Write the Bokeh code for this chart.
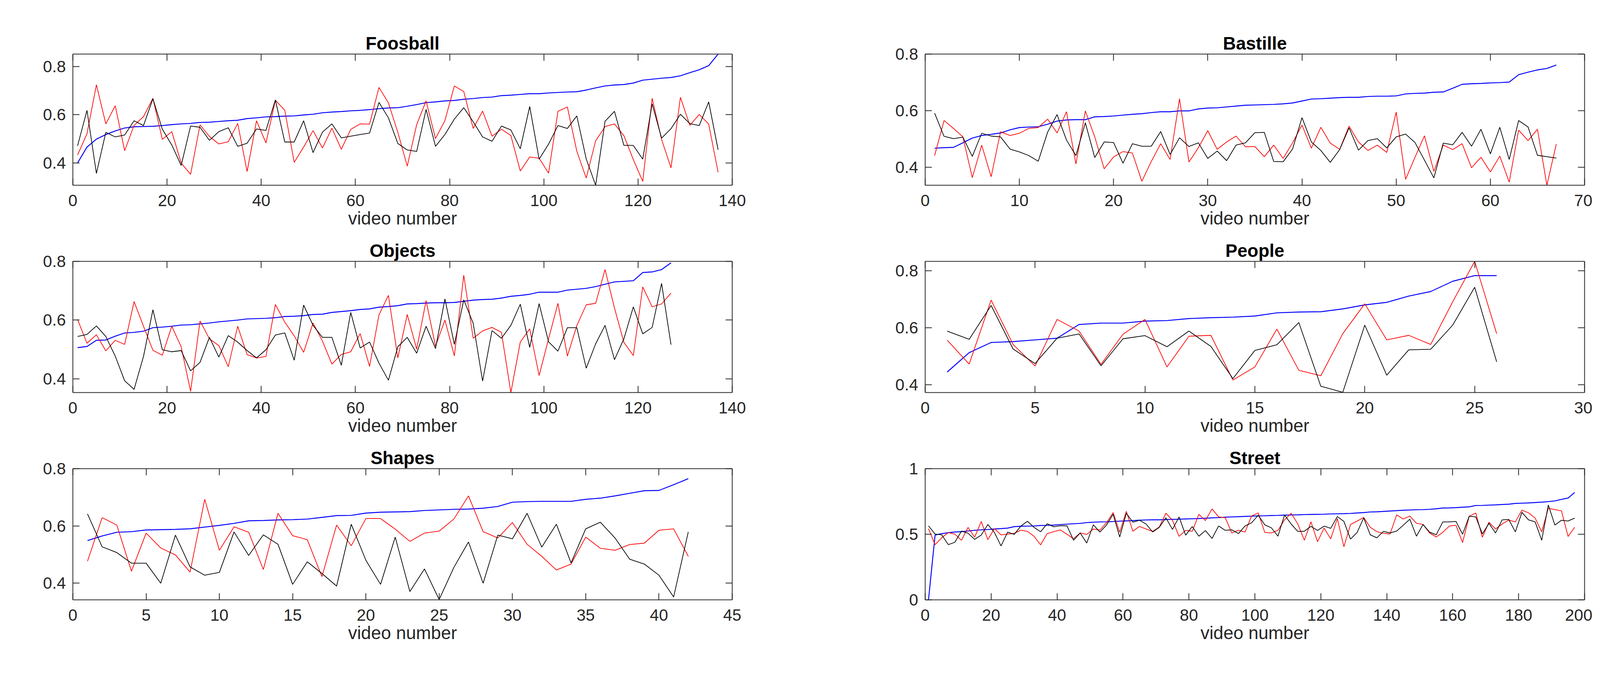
from bokeh.plotting import figure
from bokeh.models import Range1d, FixedTicker, LinearAxis, NumeralTickFormatter, CustomJSTickFormatter
from bokeh.layouts import column, row
from bokeh.embed import file_html
from bokeh.resources import INLINE

# ---------------- data ----------------
foos_x = list(range(1, 138, 2))
foos_blue = [0.400,0.466,0.499,0.518,0.533,0.545,0.550,0.551,0.552,0.555,
             0.559,0.562,0.564,0.568,0.569,0.572,0.575,0.577,0.584,0.587,
             0.591,0.592,0.594,0.595,0.599,0.602,0.608,0.611,0.613,0.616,
             0.618,0.621,0.625,0.628,0.629,0.635,0.642,0.650,0.653,0.657,
             0.659,0.664,0.667,0.671,0.673,0.679,0.681,0.684,0.687,0.687,
             0.690,0.692,0.694,0.695,0.702,0.711,0.719,0.723,0.725,0.731,
             0.743,0.747,0.751,0.754,0.761,0.774,0.786,0.803,0.851]
foos_red = [0.433,0.521,0.724,0.562,0.637,0.451,0.556,0.592,0.668,0.498,
            0.530,0.400,0.353,0.558,0.510,0.479,0.488,0.564,0.365,0.575,
            0.483,0.660,0.618,0.403,0.466,0.534,0.462,0.544,0.457,0.539,
            0.562,0.561,0.713,0.649,0.527,0.387,0.559,0.657,0.501,0.576,
            0.719,0.696,0.543,0.615,0.511,0.540,0.514,0.367,0.425,0.420,
            0.358,0.614,0.632,0.449,0.338,0.492,0.551,0.562,0.513,0.414,
            0.324,0.668,0.498,0.380,0.672,0.556,0.601,0.561,0.362]
foos_black = [0.471,0.618,0.357,0.527,0.508,0.516,0.575,0.555,0.666,0.540,
              0.475,0.390,0.553,0.548,0.494,0.530,0.546,0.469,0.482,0.541,
              0.535,0.661,0.487,0.487,0.575,0.443,0.528,0.562,0.504,0.511,
              0.518,0.524,0.651,0.587,0.481,0.454,0.448,0.622,0.469,0.518,
              0.582,0.629,0.571,0.508,0.490,0.553,0.537,0.459,0.634,0.416,
              0.478,0.555,0.543,0.595,0.417,0.308,0.573,0.614,0.473,0.473,
              0.416,0.645,0.503,0.542,0.602,0.563,0.555,0.653,0.455]

bast_x = list(range(1, 68))
bast_blue = [0.467,0.469,0.470,0.486,0.503,0.512,0.516,0.521,0.532,0.540,
             0.542,0.543,0.552,0.563,0.567,0.568,0.568,0.578,0.579,0.581,
             0.584,0.587,0.589,0.593,0.596,0.596,0.599,0.599,0.606,0.609,
             0.610,0.613,0.616,0.619,0.620,0.621,0.622,0.624,0.627,0.634,
             0.641,0.642,0.644,0.646,0.647,0.647,0.650,0.651,0.651,0.652,
             0.659,0.661,0.662,0.665,0.666,0.679,0.693,0.695,0.696,0.698,
             0.699,0.701,0.727,0.736,0.744,0.749,0.761]
bast_red = [0.441,0.565,0.537,0.507,0.363,0.478,0.366,0.525,0.512,0.520,
            0.537,0.540,0.570,0.521,0.596,0.411,0.599,0.507,0.394,0.436,
            0.455,0.450,0.350,0.420,0.483,0.427,0.642,0.418,0.469,0.529,
            0.463,0.489,0.510,0.472,0.473,0.437,0.478,0.431,0.486,0.549,
            0.467,0.541,0.485,0.463,0.545,0.489,0.459,0.478,0.452,0.595,
            0.357,0.435,0.511,0.385,0.478,0.462,0.483,0.398,0.435,0.383,
            0.439,0.347,0.531,0.494,0.534,0.336,0.482]
bast_black = [0.591,0.509,0.501,0.506,0.438,0.520,0.510,0.507,0.464,0.454,
              0.441,0.421,0.524,0.586,0.496,0.441,0.557,0.434,0.489,0.487,
              0.414,0.483,0.474,0.474,0.526,0.445,0.504,0.473,0.486,0.431,
              0.457,0.423,0.478,0.486,0.522,0.523,0.420,0.419,0.464,0.575,
              0.489,0.459,0.417,0.462,0.539,0.460,0.494,0.501,0.468,0.507,
              0.517,0.487,0.425,0.362,0.485,0.479,0.523,0.474,0.534,0.447,
              0.541,0.427,0.565,0.542,0.442,0.437,0.432]

obj_x = list(range(1, 128, 2))
obj_blue = [0.506,0.510,0.531,0.532,0.545,0.556,0.558,0.562,0.574,0.576,
            0.579,0.583,0.584,0.587,0.590,0.594,0.597,0.600,0.604,0.605,
            0.606,0.608,0.612,0.613,0.615,0.619,0.620,0.626,0.629,0.632,
            0.636,0.638,0.644,0.646,0.649,0.655,0.656,0.658,0.659,0.659,
            0.660,0.664,0.668,0.670,0.671,0.675,0.681,0.684,0.688,0.695,
            0.695,0.695,0.702,0.705,0.708,0.714,0.722,0.730,0.732,0.734,
            0.762,0.764,0.772,0.795]
obj_red = [0.602,0.521,0.550,0.495,0.531,0.517,0.663,0.579,0.497,0.480,
           0.579,0.509,0.357,0.597,0.536,0.513,0.441,0.579,0.482,0.471,
           0.476,0.653,0.593,0.546,0.490,0.590,0.528,0.450,0.483,0.492,
           0.554,0.442,0.618,0.684,0.471,0.619,0.501,0.666,0.511,0.600,
           0.478,0.753,0.538,0.563,0.575,0.558,0.353,0.525,0.570,0.411,
           0.536,0.657,0.477,0.581,0.652,0.657,0.772,0.641,0.524,0.479,
           0.713,0.645,0.655,0.692]
obj_black = [0.544,0.551,0.580,0.544,0.477,0.393,0.364,0.476,0.635,0.499,
             0.492,0.496,0.427,0.456,0.541,0.474,0.547,0.525,0.496,0.471,
             0.499,0.549,0.556,0.463,0.651,0.582,0.541,0.541,0.446,0.626,
             0.505,0.525,0.453,0.395,0.509,0.541,0.487,0.579,0.503,0.672,
             0.517,0.669,0.589,0.392,0.564,0.538,0.582,0.654,0.507,0.656,
             0.526,0.494,0.574,0.574,0.436,0.519,0.582,0.465,0.536,0.645,
             0.553,0.575,0.725,0.516]

peo_x = list(range(1, 27))
peo_blue = [0.444,0.512,0.548,0.551,0.557,0.563,0.611,0.616,0.616,0.623,
            0.625,0.632,0.635,0.637,0.641,0.652,0.655,0.656,0.666,0.680,
            0.689,0.711,0.727,0.763,0.783,0.783]
peo_red = [0.556,0.472,0.697,0.541,0.465,0.629,0.588,0.471,0.577,0.629,
           0.462,0.570,0.573,0.416,0.462,0.595,0.450,0.431,0.579,0.684,
           0.557,0.573,0.541,0.691,0.833,0.579]
peo_black = [0.588,0.559,0.678,0.525,0.474,0.563,0.578,0.466,0.561,0.572,
             0.533,0.588,0.534,0.421,0.520,0.540,0.618,0.394,0.373,0.609,
             0.433,0.522,0.524,0.609,0.742,0.480]

shp_x = list(range(1, 43))
shp_blue = [0.549,0.565,0.578,0.580,0.586,0.587,0.588,0.590,0.596,0.602,
            0.609,0.618,0.619,0.621,0.622,0.624,0.630,0.636,0.637,0.645,
            0.648,0.649,0.650,0.654,0.656,0.658,0.659,0.662,0.668,0.683,
            0.685,0.686,0.686,0.686,0.693,0.697,0.705,0.714,0.723,0.724,
            0.744,0.765]
shp_red = [0.477,0.629,0.603,0.442,0.575,0.523,0.499,0.439,0.693,0.515,
           0.597,0.578,0.448,0.644,0.566,0.552,0.423,0.603,0.531,0.626,
           0.626,0.589,0.546,0.575,0.582,0.624,0.705,0.580,0.558,0.612,
           0.536,0.494,0.446,0.467,0.561,0.522,0.515,0.535,0.540,0.585,
           0.590,0.494]
shp_black = [0.642,0.527,0.507,0.470,0.470,0.400,0.568,0.457,0.428,0.438,
             0.579,0.497,0.569,0.536,0.396,0.475,0.434,0.390,0.606,0.480,
             0.396,0.561,0.371,0.450,0.343,0.455,0.544,0.400,0.568,0.555,
             0.644,0.526,0.606,0.471,0.590,0.613,0.558,0.484,0.467,0.428,
             0.352,0.579]

str_x = list(range(1, 198, 2))
str_blue = [0.000,0.494,0.505,0.512,0.517,0.520,0.525,0.530,0.534,0.536,
            0.540,0.543,0.547,0.558,0.561,0.562,0.563,0.567,0.568,0.570,
            0.574,0.577,0.580,0.583,0.589,0.592,0.594,0.595,0.597,0.600,
            0.602,0.604,0.607,0.609,0.610,0.610,0.612,0.614,0.615,0.617,
            0.618,0.620,0.622,0.625,0.627,0.630,0.632,0.634,0.636,0.638,
            0.640,0.641,0.643,0.644,0.646,0.647,0.648,0.650,0.651,0.652,
            0.653,0.655,0.656,0.657,0.659,0.662,0.665,0.670,0.671,0.674,
            0.677,0.680,0.683,0.685,0.687,0.688,0.690,0.694,0.700,0.701,
            0.703,0.706,0.709,0.719,0.720,0.722,0.724,0.727,0.729,0.735,
            0.737,0.739,0.742,0.745,0.749,0.754,0.766,0.776,0.819]
str_red = [0.542,0.421,0.473,0.513,0.501,0.454,0.552,0.478,0.597,0.459,
           0.543,0.495,0.501,0.507,0.531,0.522,0.485,0.419,0.505,0.520,
           0.533,0.500,0.466,0.510,0.499,0.540,0.532,0.588,0.665,0.515,
           0.675,0.523,0.560,0.540,0.522,
           0.555,0.660,0.607,0.484,0.530,0.522,0.652,0.605,0.693,0.632,
           0.627,0.509,0.531,0.517,0.639,0.663,0.514,0.510,0.530,0.610,
           0.660,0.580,0.454,0.595,0.443,0.547,0.464,0.620,0.405,0.574,
           0.600,0.628,0.553,
           0.520,0.507,0.502,0.648,0.616,0.639,0.584,0.575,0.510,0.479,
           0.515,0.563,0.568,0.437,0.637,0.662,0.477,0.592,0.540,0.578,
           0.608,0.594,0.684,0.663,0.624,0.518,0.698,0.688,0.678,0.483,
           0.553]
str_black = [0.564,0.501,0.496,0.421,0.439,0.524,0.508,0.461,0.494,0.574,
             0.514,0.411,0.516,0.499,0.562,0.599,0.553,0.519,0.580,0.557,
             0.565,0.564,0.454,0.510,0.433,0.572,0.517,0.570,0.653,0.479,
             0.660,0.592,0.607,0.578,0.517,
             0.553,0.626,0.537,0.632,0.493,0.559,0.485,0.528,0.468,0.563,
             0.530,0.534,0.505,0.563,0.587,0.645,0.572,0.549,0.485,0.647,
             0.578,0.522,0.523,0.560,0.529,0.562,0.545,0.635,0.598,0.463,
             0.513,0.625,0.496,
             0.473,0.522,0.510,0.524,0.569,0.615,0.485,0.574,0.516,0.496,
             0.594,0.594,0.598,0.500,0.637,0.633,0.502,0.583,0.510,0.610,
             0.613,0.518,0.667,0.610,0.595,0.454,0.723,0.570,0.607,0.601,
             0.623]

titles = ["Foosball", "Bastille", "Objects", "People", "Shapes", "Street"]
x_label = "video number"

# ---------------- styling ----------------
FONT = "Liberation Sans"
AXC = "#262626"
FRAME_W, FRAME_H = 1688, 336


def style_axis(ax, ticks, show_labels):
    ax.ticker = FixedTicker(ticks=ticks)
    ax.axis_line_color = AXC
    ax.axis_line_width = 2
    ax.major_tick_line_color = AXC
    ax.major_tick_line_width = 2
    ax.major_tick_in = 17
    ax.major_tick_out = 0
    ax.minor_tick_line_color = None
    ax.major_label_text_font = FONT
    ax.major_label_text_color = AXC
    if show_labels:
        ax.formatter = NumeralTickFormatter(format="0.[0]")
        ax.major_label_text_font_size = "42px"
    else:
        ax.formatter = CustomJSTickFormatter(code="return ''")
        ax.major_label_text_font_size = "1px"
        ax.major_label_standoff = 0


def panel(title, xs, blue, red, black, x_end, x_ticks, y_lo, y_hi, y_ticks,
          left, right, top, bottom):
    p = figure(frame_width=FRAME_W, frame_height=FRAME_H,
               x_range=Range1d(0, x_end), y_range=Range1d(y_lo, y_hi),
               output_backend="svg", toolbar_location=None,
               min_border_left=left, min_border_right=right,
               min_border_top=top, min_border_bottom=bottom,
               background_fill_color="white", border_fill_color="white")
    p.outline_line_color = None
    p.xgrid.visible = False
    p.ygrid.visible = False

    p.title.text = title
    p.title.align = "center"
    p.title.text_font = FONT
    p.title.text_font_size = "46px"
    p.title.text_font_style = "bold"
    p.title.text_color = "black"
    p.title.standoff = 4

    style_axis(p.xaxis[0], x_ticks, True)
    style_axis(p.yaxis[0], y_ticks, True)
    p.xaxis[0].major_label_standoff = 24
    p.yaxis[0].major_label_standoff = 18
    p.xaxis[0].axis_label = x_label
    p.xaxis[0].axis_label_text_font = FONT
    p.xaxis[0].axis_label_text_font_size = "46px"
    p.xaxis[0].axis_label_text_font_style = "normal"
    p.xaxis[0].axis_label_text_color = AXC
    p.xaxis[0].axis_label_standoff = 2

    top_ax = LinearAxis()
    style_axis(top_ax, x_ticks, False)
    p.add_layout(top_ax, "above")
    right_ax = LinearAxis()
    style_axis(right_ax, y_ticks, False)
    p.add_layout(right_ax, "right")

    p.line(xs, blue, line_color="#0000FF", line_width=2.4)
    p.line(xs, red, line_color="#FF0000", line_width=1.8)
    p.line(xs, black, line_color="#000000", line_width=1.8)
    return p


yt = [0.4, 0.6, 0.8]
LEFT_L, RIGHT_L = 186, 40
LEFT_R, RIGHT_R = 454, 20

f1 = panel(titles[0], foos_x, foos_blue, foos_red, foos_black, 140, list(range(0, 141, 20)),
           0.308, 0.851, yt, LEFT_L, RIGHT_L, 138, 128)
f2 = panel(titles[1], bast_x, bast_blue, bast_red, bast_black, 70, list(range(0, 71, 10)),
           0.336, 0.8, yt, LEFT_R, RIGHT_R, 138, 128)
f3 = panel(titles[2], obj_x, obj_blue, obj_red, obj_black, 140, list(range(0, 141, 20)),
           0.353, 0.8, yt, LEFT_L, RIGHT_L, 67, 128)
f4 = panel(titles[3], peo_x, peo_blue, peo_red, peo_black, 30, list(range(0, 31, 5)),
           0.372, 0.833, yt, LEFT_R, RIGHT_R, 67, 128)
f5 = panel(titles[4], shp_x, shp_blue, shp_red, shp_black, 45, list(range(0, 46, 5)),
           0.342, 0.8, yt, LEFT_L, RIGHT_L, 67, 140)
f6 = panel(titles[5], str_x, str_blue, str_red, str_black, 200, list(range(0, 201, 20)),
           0.0, 1.0, [0, 0.5, 1], LEFT_R, RIGHT_R, 67, 140)

layout = column(row(f1, f2), row(f3, f4), row(f5, f6))

open("out.html", "w").write(file_html(layout, INLINE))
